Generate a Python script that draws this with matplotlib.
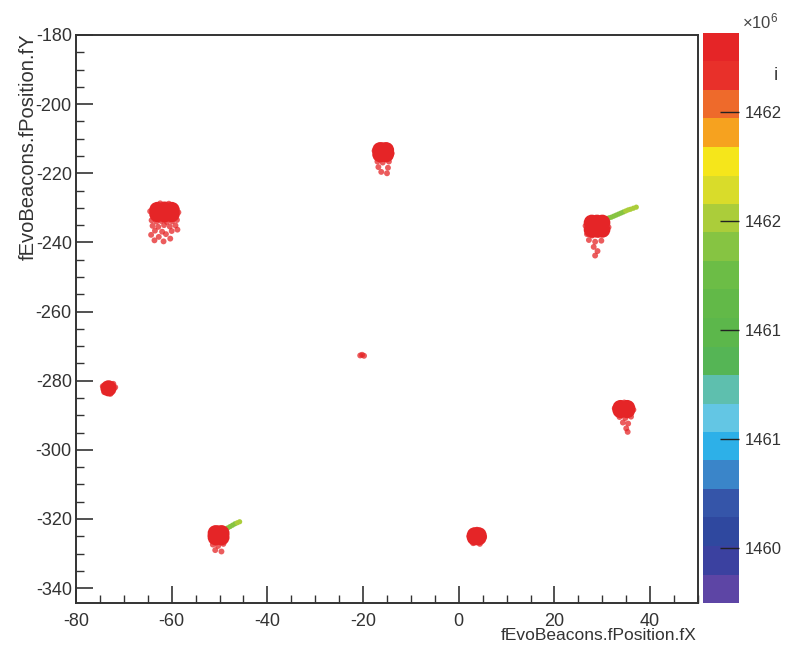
import matplotlib
matplotlib.use("Agg")
import matplotlib.pyplot as plt
from matplotlib.colors import ListedColormap, Normalize
from matplotlib.cm import ScalarMappable
from matplotlib.ticker import MultipleLocator, FixedLocator, FuncFormatter

plt.rcParams['font.family'] = ['Liberation Sans', 'DejaVu Sans']
plt.rcParams['axes.unicode_minus'] = False

# ---------------- data (positions in fX / fY, value in units of 1e6) -------------
# dense cores of each beacon cluster
core_x = [-63.0, -61.5, -60.0, -63.0, -61.5, -60.0,
          -16.4, -15.2, -16.4, -15.2,
          27.8, 28.9, 30.0, 27.8, 28.9, 30.0,
          -73.2,
          33.8, 35.2, 33.8, 35.2,
          -50.8, -49.6, -50.8, -49.6,
          3.35, 4.15, 3.35, 4.15]
core_y = [-230.6, -230.5, -230.6, -231.8, -231.9, -231.8,
          -213.3, -213.3, -214.5, -214.5,
          -234.3, -234.3, -234.3, -236.3, -236.3, -236.3,
          -282.2,
          -287.9, -287.9, -288.5, -288.5,
          -324.1, -324.1, -325.3, -325.3,
          -324.7, -324.7, -325.3, -325.3]
core_t = [1462.2] * len(core_x)

# scattered points around / below each core
spray_x = [-62.4, -60.6, -64.5, -58.6,
           -64.2, -63.2, -62.2, -61.0, -59.9, -58.9,
           -64.0, -62.8, -61.6, -60.4, -59.2,
           -63.5, -62.0, -60.0, -58.8,
           -64.3, -61.2, -62.7, -60.3, -63.6, -61.7,
           -17.6, -14.0, -15.9, -17.0, -15.9, -14.6, -16.8, -14.8, -16.2, -15.0,
           26.5, 31.3, 28.6, 26.8, 27.9, 29.2, 30.5, 27.2, 28.5, 29.8, 28.2, 29.0, 28.5,
           -20.6, -19.8, -20.2,
           -74.4, -71.8, -72.8, -74.1, -72.2,
           32.6, 36.5, 34.6, 33.6, 34.8, 36.0, 34.3, 35.4, 35.0, 35.3,
           -51.9, -48.6, -50.3, -51.4, -50.3, -49.2, -50.9, -49.6,
           2.2, 5.3, 3.8, 3.0, 4.4]
spray_y = [-228.7, -228.8, -231.0, -231.3,
           -233.6, -234.0, -233.8, -234.1, -233.9, -233.5,
           -235.2, -235.5, -235.0, -235.4, -235.1,
           -236.6, -236.9, -236.7, -236.3,
           -237.8, -237.6, -238.4, -238.9, -239.4, -239.7,
           -213.5, -214.2, -211.9, -216.6, -216.9, -216.6, -218.2, -218.4, -219.6, -220.0,
           -235.2, -235.6, -233.0, -237.6, -238.0, -237.8, -237.5, -239.3, -239.8, -239.5, -241.3, -242.5, -243.8,
           -272.7, -272.8, -272.5,
           -281.6, -281.9, -283.8, -283.3, -280.9,
           -288.0, -288.4, -286.3, -290.5, -290.8, -290.4, -292.1, -292.4, -293.8, -294.8,
           -324.8, -324.5, -322.7, -327.4, -327.8, -327.2, -329.0, -329.4,
           -325.0, -325.2, -323.1, -327.0, -327.2]
spray_t = [1462.2] * len(spray_x)

# older (green) trails
trail_x = [30.9, 31.4, 31.9, 32.4, 32.9, 33.4, 33.9, 34.4, 34.9, 35.4, 35.9, 36.5, 37.1,
           -48.3, -47.8, -47.3, -46.8, -46.3, -45.8]
trail_y = [-233.2, -232.9, -232.7, -232.4, -232.1, -231.8, -231.5, -231.2, -230.9, -230.6, -230.4, -230.1, -229.8,
           -322.6, -322.2, -321.8, -321.4, -321.1, -320.8]
trail_t = [1461.48, 1461.49, 1461.50, 1461.51, 1461.52, 1461.53, 1461.54, 1461.55, 1461.57, 1461.59, 1461.61, 1461.63, 1461.65,
           1461.48, 1461.50, 1461.52, 1461.55, 1461.58, 1461.62]

# palette (bottom -> top of the colour bar)
palette = ['#5d45a5', '#3b41a0', '#2f489f', '#3555a9', '#3a85c9', '#2db0e8', '#63c6e4',
           '#5ebfae', '#55b555', '#5cb74b', '#62b948', '#6cbd46', '#86c442', '#abcd3a',
           '#d9dc2a', '#f5e61b', '#f6a21f', '#ee6a2b', '#e8302a', '#e52527']
z_min, z_max = 1460.2, 1462.29
z_ticks = [1460.4, 1460.8, 1461.2, 1461.6, 1462.0]

x_range = (-80, 50)
y_range = (-344.3, -180)
x_ticks = [-80, -60, -40, -20, 0, 20, 40]
y_ticks = [-340, -320, -300, -280, -260, -240, -220, -200, -180]

# ---------------- figure ----------------
W, H = 786, 659
fig = plt.figure(figsize=(W / 100, H / 100), dpi=100)
fig.patch.set_facecolor('white')
ax = fig.add_axes([76 / W, 56 / H, 622 / W, 568 / H])
cax = fig.add_axes([703 / W, 56 / H, 36 / W, 570 / H])

cmap = ListedColormap(palette)
norm = Normalize(z_min, z_max)

ax.scatter(trail_x, trail_y, c=trail_t, cmap=cmap, norm=norm, s=14, linewidths=0, zorder=2)
ax.scatter(spray_x, spray_y, c=spray_t, cmap=cmap, norm=norm, s=18, linewidths=0, alpha=0.75, zorder=3)
ax.scatter(core_x, core_y, c=core_t, cmap=cmap, norm=norm, s=135, linewidths=0, zorder=4)

ax.set_xlim(*x_range)
ax.set_ylim(*y_range)
ax.set_xticks(x_ticks)
ax.set_yticks(y_ticks)
ax.xaxis.set_minor_locator(MultipleLocator(5))
ax.yaxis.set_minor_locator(MultipleLocator(5))

axis_col = '#333333'
for sp in ax.spines.values():
    sp.set_color(axis_col)
    sp.set_linewidth(1.4)
ax.tick_params(axis='both', which='major', direction='in', length=12, width=1.2,
               color=axis_col, labelcolor='#333333', labelsize=13)
ax.tick_params(axis='both', which='minor', direction='in', length=6, width=1.0, color=axis_col)
ax.tick_params(axis='x', which='both', pad=7)
ax.tick_params(axis='y', which='both', pad=3)

fig.text(697 / W, 1 - 636 / H, 'fEvoBeacons.fPosition.fX', ha='right', va='center',
         fontsize=12.5, color='#333333')
fig.text(28 / W, 1 - 33 / H, 'fEvoBeacons.fPosition.fY', rotation=90, ha='center', va='top',
         fontsize=14.5, color='#333333')

# colour bar
sm = ScalarMappable(norm=norm, cmap=cmap)
cb = fig.colorbar(sm, cax=cax)
cb.outline.set_visible(False)
cax.yaxis.set_major_locator(FixedLocator(z_ticks))
cax.yaxis.set_major_formatter(FuncFormatter(lambda v, p: '%.0f' % v))
cax.yaxis.set_ticks_position('right')
cax.tick_params(axis='y', direction='in', length=14, width=1.0, color='#222222',
                labelcolor='#333333', labelsize=12, pad=4)
cax.minorticks_off()

fig.text(760 / W, 1 - 21 / H, r'$\mathregular{\times10^{6}}$', ha='center', va='center',
         fontsize=12, color='#444444')
fig.text(776 / W, 1 - 76 / H, 'i', ha='center', va='center', fontsize=14, color='#444444')

fig.savefig('out.png', dpi=100, facecolor='white')
